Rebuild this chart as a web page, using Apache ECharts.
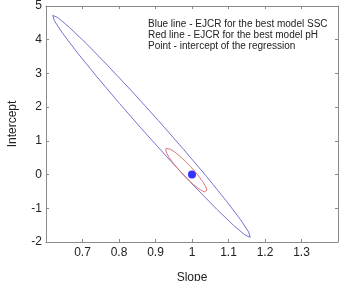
<!DOCTYPE html>
<html><head><meta charset="utf-8">
<script src="https://cdn.jsdelivr.net/npm/echarts@6/dist/echarts.min.js"></script>
<style>html,body{margin:0;padding:0;background:#fff}#c{width:340px;height:281px}</style>
</head><body><div id="c"></div>
<script>
// Blue ellipse (EJCR, best model SSC): [slope, intercept] outline points
const blueX = [0.6185,0.6325,0.6639,0.7107,0.7696,0.8368,0.9074,0.9768,1.0402,1.0933,1.1325,1.1551,1.1595,1.1455,1.1141,1.0673,1.0084,0.9412,0.8706,0.8012,0.7378,0.6847,0.6455,0.6229,0.6185];
const blueY = [4.721,4.655,4.369,3.883,3.229,2.453,1.608,0.7498,-0.0617,-0.7715,-1.3312,-1.7028,-1.861,-1.7948,-1.5088,-1.0227,-0.3693,0.4068,1.2524,2.1102,2.9217,3.6315,4.1912,4.5628,4.721];
// Red ellipse (EJCR, best model pH)
const redX = [0.9288,0.9336,0.9417,0.9529,0.9661,0.9806,0.9954,1.0094,1.0217,1.0315,1.0381,1.0409,1.0400,1.0353,1.0271,1.0159,1.0027,0.9882,0.9734,0.9594,0.9471,0.9373,0.9307,0.9279,0.9288];
const redY = [0.7774,0.7844,0.7469,0.6676,0.5521,0.4078,0.2450,0.0746,-0.0919,-0.2430,-0.3683,-0.4596,-0.5104,-0.5174,-0.4799,-0.4006,-0.2851,-0.1408,0.0220,0.1924,0.3589,0.5100,0.6353,0.7266,0.7774];
// Intercept point of the regression
const pointXY = [1, 0];
const legendLines = ['Blue line - EJCR for the best model SSC','Red line - EJCR for the best model pH','Point - intercept of the regression'];
const xLabelsShown = ['0.7','0.8','0.9','1','1.1','1.2','1.3'];

const zip = (a,b)=>a.map((v,i)=>[v,b[i]]);
const axisCol = '#8a8a8a';
const font = 'Liberation Sans, Arial, sans-serif';
const baseX = {type:'value',min:0.6,max:1.4,interval:0.1,splitLine:{show:false},
  axisLine:{onZero:false,lineStyle:{color:axisCol,width:1}},axisTick:{inside:true,length:3,lineStyle:{color:axisCol}}};
const baseY = {type:'value',min:-2,max:5,interval:1,splitLine:{show:false},
  axisLine:{onZero:false,lineStyle:{color:axisCol,width:1}},axisTick:{inside:true,length:3,lineStyle:{color:axisCol}}};

const chart = echarts.init(document.getElementById('c'),null,{renderer:'canvas'});
chart.setOption({
  animation:false,
  backgroundColor:'#fff',
  title:{text:legendLines.join('\n'),left:143,top:14,
    textStyle:{fontFamily:font,fontSize:10,fontWeight:'normal',color:'#222',lineHeight:11}},
  grid:{left:46,right:2,top:6,bottom:39,containLabel:false,outerBoundsMode:'none'},
  xAxis:[
    Object.assign({},baseX,{position:'bottom',name:'Slope',nameLocation:'middle',nameGap:30,
      nameTextStyle:{fontFamily:font,fontSize:12,color:'#222'},
      axisLabel:{fontFamily:font,fontSize:12,color:'#222',margin:5,
        formatter:v=>{const s=String(Math.round(v*10)/10);return xLabelsShown.includes(s)?s:'';}}}),
    Object.assign({},baseX,{position:'top',axisLabel:{show:false}})
  ],
  yAxis:[
    Object.assign({},baseY,{position:'left',name:'Intercept',nameLocation:'middle',nameGap:27,
      nameTextStyle:{fontFamily:font,fontSize:12,color:'#222'},
      axisLabel:{fontFamily:font,fontSize:12,color:'#222',margin:4}}),
    Object.assign({},baseY,{position:'right',axisLabel:{show:false}})
  ],
  series:[
    {type:'line',data:zip(blueX,blueY),showSymbol:false,smooth:false,
      lineStyle:{color:'#7474d2',width:1},silent:true},
    {type:'line',data:zip(redX,redY),showSymbol:false,smooth:false,
      lineStyle:{color:'#e07a7a',width:1},silent:true},
    {type:'scatter',data:[pointXY],symbol:'circle',symbolSize:8,itemStyle:{color:'#0000ff'}}
  ]
});
</script></body></html>
